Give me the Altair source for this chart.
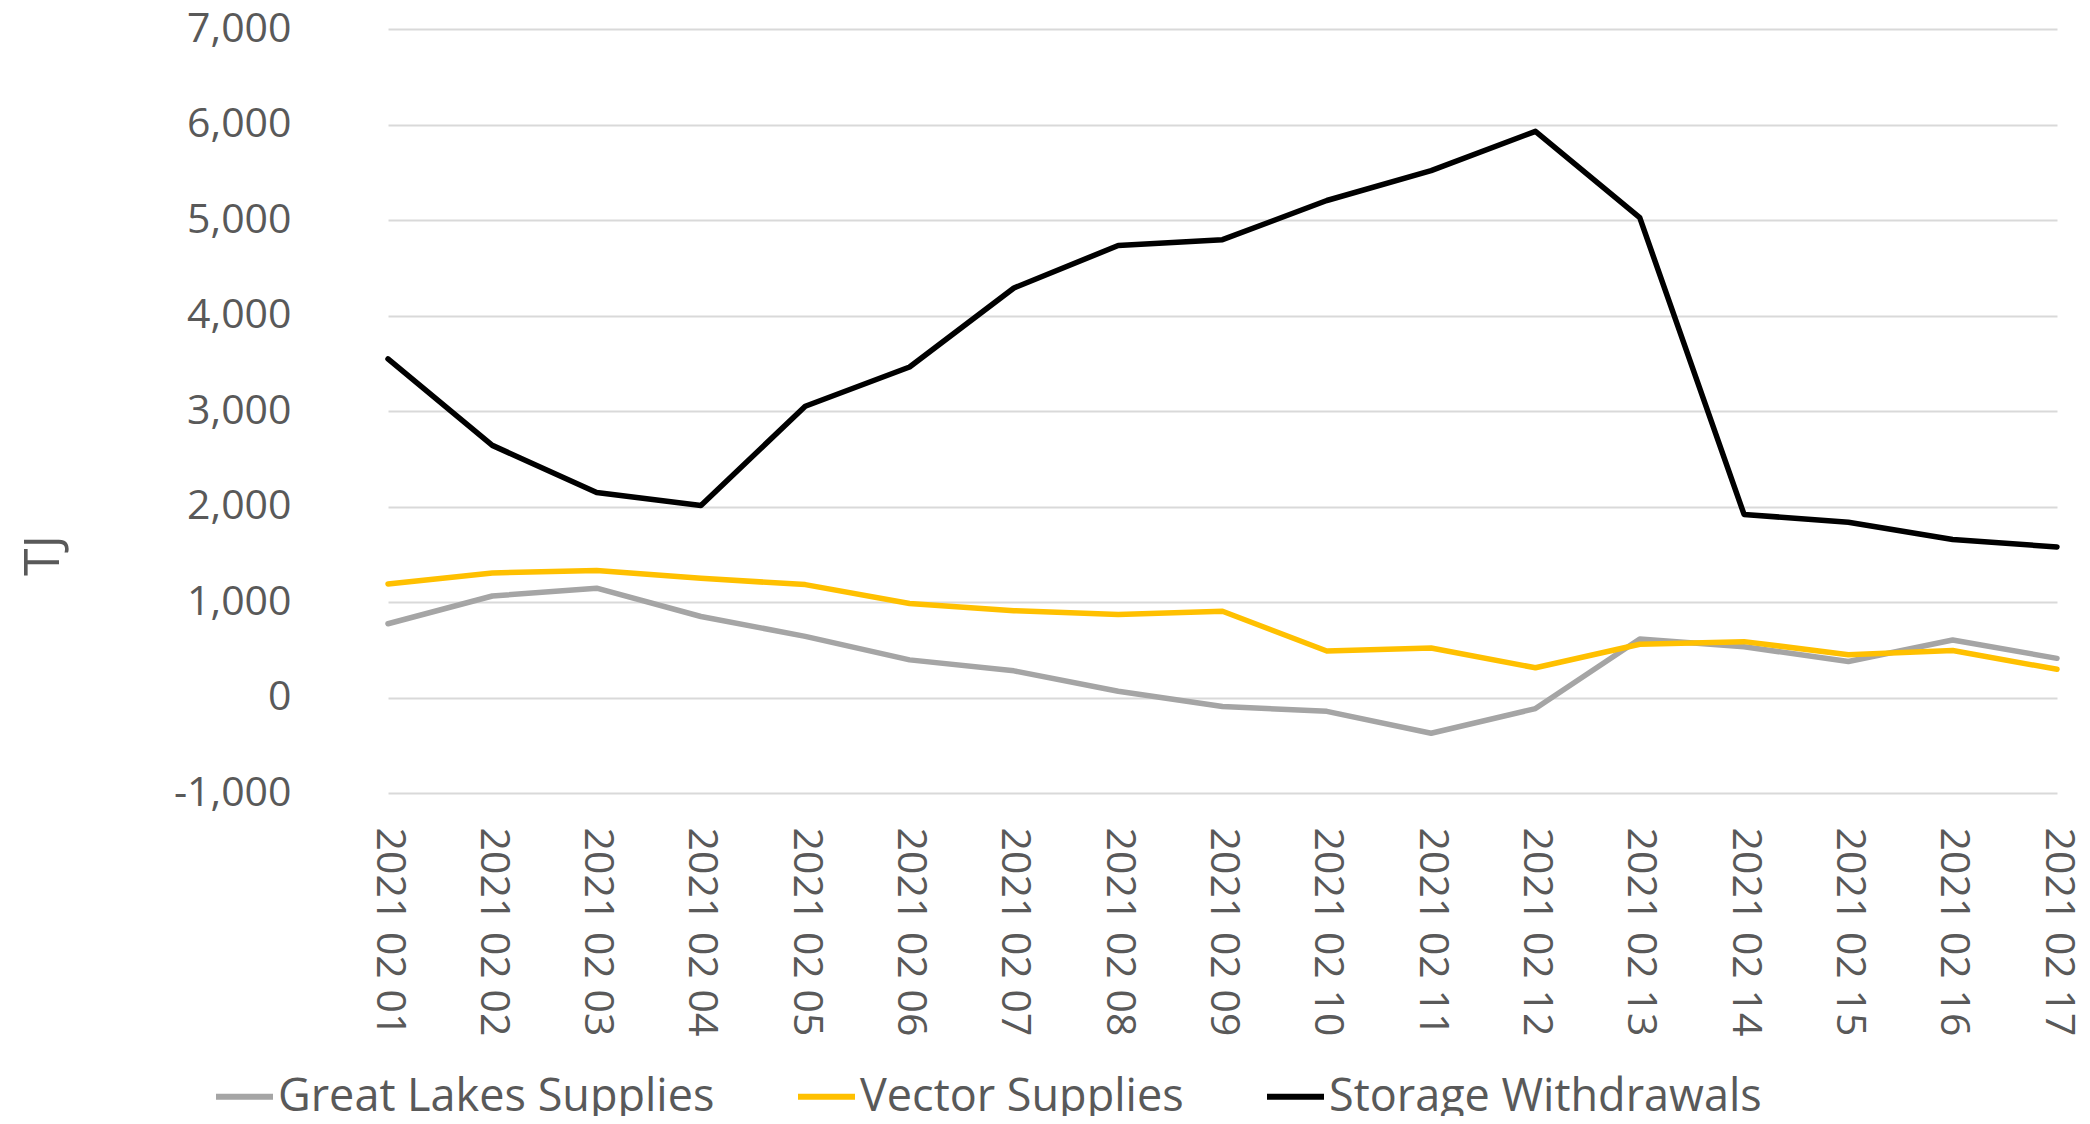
import altair as alt
import pandas as pd

dates = ["2021 02 01", "2021 02 02", "2021 02 03", "2021 02 04", "2021 02 05",
         "2021 02 06", "2021 02 07", "2021 02 08", "2021 02 09", "2021 02 10",
         "2021 02 11", "2021 02 12", "2021 02 13", "2021 02 14", "2021 02 15",
         "2021 02 16", "2021 02 17"]

great_lakes = [772, 1063, 1145, 848, 640, 394, 279, 65, -94, -145,
               -374, -116, 612, 531, 377, 602, 410]
vector = [1188, 1304, 1331, 1248, 1182, 985, 909, 870, 903, 487,
          519, 311, 558, 585, 448, 492, 295]
storage = [3545, 2640, 2147, 2010, 3050, 3461, 4288, 4733, 4794, 5204,
           5517, 5928, 5024, 1917, 1835, 1654, 1577]

series_names = ["Great Lakes Supplies", "Vector Supplies", "Storage Withdrawals"]
series_colors = ["#A5A5A5", "#FFC000", "#000000"]
y_ticks = [-1000, 0, 1000, 2000, 3000, 4000, 5000, 6000, 7000]

rows = []
for name, vals in zip(series_names, [great_lakes, vector, storage]):
    for d, v in zip(dates, vals):
        rows.append({"date": d, "value": v, "series": name})
df = pd.DataFrame(rows)

FONT = "Open Sans"
TXT = "#595959"

chart = alt.Chart(df).mark_line(strokeWidth=5.5, strokeCap="round", strokeJoin="round").encode(
    x=alt.X("date:O", sort=dates,
            scale=alt.Scale(range=[51, 1720], padding=0),
            axis=alt.Axis(title=None, labelAngle=90, labelAlign="left", labelBaseline="middle",
                          labelPadding=34, ticks=False, domain=False, grid=False,
                          labelFont=FONT, labelFontSize=41, labelColor=TXT, labelLimit=0)),
    y=alt.Y("value:Q",
            scale=alt.Scale(domain=[-1000, 7000], nice=False, zero=False),
            axis=alt.Axis(title="TJ", values=y_ticks,
                          labelExpr="replace(format(datum.value, ','), '\u2212', '-')",
                          ticks=False, domain=False, grid=True, gridColor="#D9D9D9", gridWidth=2,
                          labelFont=FONT, labelFontSize=41, labelColor=TXT, labelPadding=46,
                          titleFont=FONT, titleFontSize=50, titleFontWeight="normal", titleColor=TXT,
                          titleAngle=-90, titleAlign="center", titleBaseline="middle",
                          titleX=-294, titleY=526)),
    color=alt.Color("series:N",
                    scale=alt.Scale(domain=series_names, range=series_colors),
                    legend=alt.Legend(orient="none", legendX=-124, legendY=1036,
                                      direction="horizontal", title=None,
                                      symbolType="stroke", symbolSize=3249, symbolStrokeWidth=6,
                                      labelFont=FONT, labelFontSize=45, labelColor=TXT,
                                      labelOffset=2, columnPadding=71, labelLimit=0)),
    order=alt.Order("series_order:Q"),
).transform_calculate(
    series_order="indexof(['Great Lakes Supplies','Vector Supplies','Storage Withdrawals'], datum.series)"
).properties(
    width=1745, height=764,
    autosize=alt.AutoSizeParams(type="none"),
    padding={"left": 329, "top": 21, "right": 0, "bottom": 323},
    background="white",
).configure_view(stroke=None)

chart.save("out.html", embed_options={"renderer": "svg", "actions": False})
